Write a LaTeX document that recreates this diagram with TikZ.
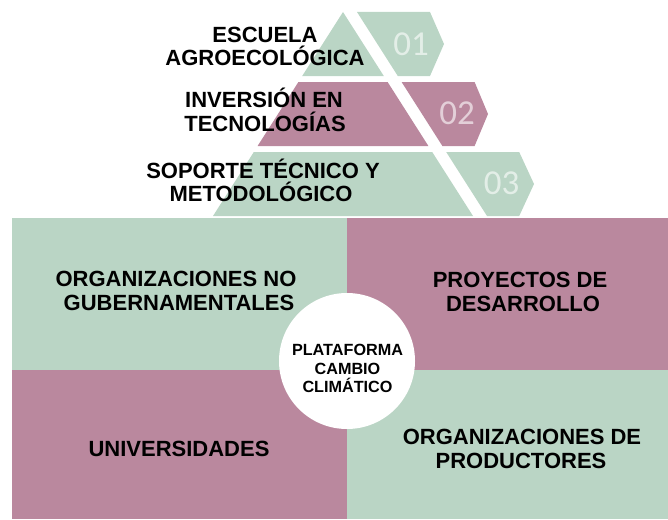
\documentclass[tikz,border=0pt]{standalone}
\usepackage{fontspec}
\setmainfont{Liberation Sans}
\newfontfamily\numfont{Carlito}
\definecolor{sage}{RGB}{186,213,197}
\definecolor{mauve}{RGB}{186,136,158}
\begin{document}
\begin{tikzpicture}[x=1pt,y=-1pt,
  lbl/.style={font=\bfseries\fontsize{22}{26}\selectfont, anchor=base, inner sep=0},
  clbl/.style={font=\bfseries\fontsize{16.2}{19}\selectfont, anchor=base, inner sep=0},
  num/.style={font=\numfont\fontsize{35}{40}\selectfont, text=white, text opacity=0.6, inner sep=0}]
\useasboundingbox (0,0) rectangle (668,519);
% quadrants
\fill[sage]  (12,217.5) rectangle (347,370);
\fill[mauve] (347,217.5) rectangle (668,370);
\fill[mauve] (12,370) rectangle (347,519);
\fill[sage]  (347,370) rectangle (668,519);
\node[circle, fill=white, minimum size=136pt, inner sep=0] (hub) at (347,361) {};
% pyramid bands
\fill[sage]  (343,12) -- (383.8,76) -- (302.2,76) -- cycle;
\fill[sage]  (357,12) -- (430,12) -- (444,44) -- (430,76) -- (397.8,76) -- cycle;
\fill[mauve] (298.4,82) -- (387.6,82) -- (428.4,146) -- (257.6,146) -- cycle;
\fill[mauve] (401.6,82) -- (474.6,82) -- (488,114) -- (474.6,146) -- (442.4,146) -- cycle;
\fill[sage]  (253.8,152) -- (432.2,152) -- (473,216) -- (213,216) -- cycle;
\fill[sage]  (446.2,152) -- (519.2,152) -- (534,184) -- (519.2,216) -- (487,216) -- cycle;
% numbers
\node[num] (n1) at (411,44) {01};
\node[num] (n2) at (457,113.5) {02};
\node[num] (n3) at (501.5,183.5) {03};
% pyramid labels
\node[lbl] (p1a) at (265,42) {ESCUELA};
\node[lbl] (p1b) at (265,65) {AGROECOLÓGICA};
\node[lbl] (p2a) at (264,107.3) {INVERSIÓN EN};
\node[lbl] (p2b) at (265,131.2) {TECNOLOGÍAS};
\node[lbl] (p3a) at (263,178.3) {SOPORTE TÉCNICO Y};
\node[lbl] (p3b) at (261,201.7) {METODOLÓGICO};
% quadrant labels
\node[lbl] (q1a) at (176,286) {ORGANIZACIONES NO};
\node[lbl] (q1b) at (179,310.7) {GUBERNAMENTALES};
\node[lbl] (q2a) at (520,287) {PROYECTOS DE};
\node[lbl] (q2b) at (523,311.7) {DESARROLLO};
\node[lbl] (q3a) at (179,456) {UNIVERSIDADES};
\node[lbl] (q4a) at (522,444.3) {ORGANIZACIONES DE};
\node[lbl] (q4b) at (521,468.3) {PRODUCTORES};
% hub labels
\node[clbl] (h1) at (347.5,355) {PLATAFORMA};
\node[clbl] (h2) at (347.5,374) {CAMBIO};
\node[clbl] (h3) at (347.5,392.7) {CLIMÁTICO};
\end{tikzpicture}
\end{document}
